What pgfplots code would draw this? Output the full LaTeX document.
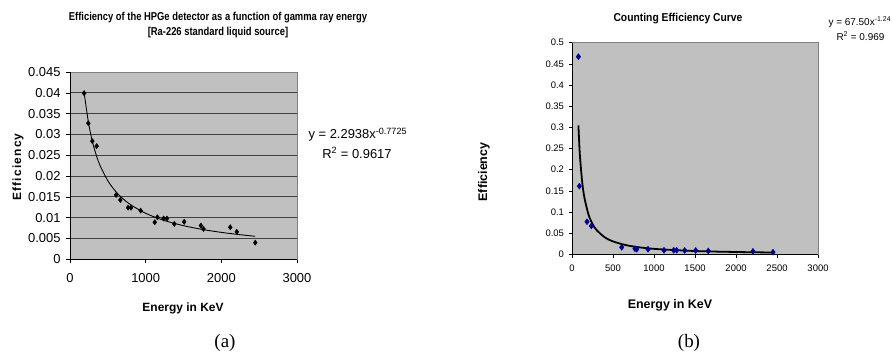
\documentclass[border=0pt]{standalone}
\usepackage{pgfplots}
\pgfplotsset{compat=1.18}
\usepackage{graphicx}
\usepackage{fontspec}
\setmainfont{Liberation Sans}
\newfontfamily\timesfont{Liberation Serif}
\definecolor{plotgray}{RGB}{192,192,192}
\definecolor{framegray}{RGB}{128,128,128}
\definecolor{gridgray}{RGB}{64,64,64}
\definecolor{navyblue}{RGB}{0,0,140}
\newcommand{\fs}[1]{\fontsize{#1}{#1}\selectfont}
\begin{document}
\begin{tikzpicture}[x=1bp,y=1bp]
\useasboundingbox (0,0) rectangle (892,356);
% ---------- panel (a) ----------
\begin{axis}[
  name=A,
  scale only axis, width=227bp, height=187.3bp,
  at={(70bp,96.7bp)}, anchor=south west,
  xmin=0, xmax=3000, ymin=0, ymax=0.045,
  scaled x ticks=false, scaled y ticks=false,
  axis background/.style={fill=plotgray},
  axis line style={framegray, line width=0.8pt},
  ymajorgrids, grid style={gridgray, line width=0.9pt},
  tick align=outside, tickpos=left, major tick length=4bp,
  tick style={black, line width=0.6pt},
  xtick={0,1000,2000,3000}, xticklabels={0,1000,2000,3000},
  ytick={0,0.005,0.01,0.015,0.02,0.025,0.03,0.035,0.04,0.045},
  yticklabels={0,0.005,0.01,0.015,0.02,0.025,0.03,0.035,0.04,0.045},
  ticklabel style={font=\fs{13}},
  xticklabel style={yshift=-7bp},
  yticklabel style={xshift=-2bp},
  clip=false,
]
\draw[black, line width=0.8pt] (rel axis cs:0,1) -- (rel axis cs:0,0) -- (rel axis cs:1,0);
\addplot[black, line width=0.9pt, smooth, no marks] coordinates {
(186,0.0405) (200,0.03829) (250,0.03223) (300,0.02799) (350,0.02486) (400,0.02241)
(500,0.01887) (600,0.01639) (700,0.01455) (800,0.01313) (1000,0.01105)
(1250,0.00930) (1500,0.00808) (1750,0.00717) (2000,0.00647) (2250,0.00591) (2448,0.00553)};
\addplot[only marks, mark=diamond*, mark size=2.6bp, black] coordinates {
(186,0.0399) (242,0.0327) (295,0.0284) (352,0.0272) (609,0.01545) (665,0.01425)
(768,0.0124) (806,0.0124) (934,0.0117) (1120,0.0089) (1155,0.0101) (1238,0.0098)
(1281,0.0098) (1378,0.0085) (1509,0.0090) (1730,0.0081) (1764,0.0073)
(2118,0.0077) (2204,0.0066) (2448,0.0040)};
\end{axis}
\node[font=\fs{11.5}\bfseries] at (218,338) {\scalebox{0.82}[1]{Efficiency of the HPGe detector as a function of gamma ray energy}};
\node[font=\fs{11.5}\bfseries] at (218,323) {\scalebox{0.82}[1]{[Ra-226 standard liquid source]}};
\node[font=\fs{12}\bfseries, rotate=90] at (18,189) {\addfontfeature{LetterSpace=10}Efficiency};
\node[font=\fs{12}\bfseries] at (183,48) {Energy in KeV};
\node[font=\fs{13}, anchor=west] at (305,221) {y = 2.2938x\textsuperscript{-0.7725}};
\node[font=\fs{13}] at (357,203) {R\textsuperscript{2} = 0.9617};
\node[font=\fs{19}\timesfont] at (225,13) {(a)};
% ---------- panel (b) ----------
\begin{axis}[
  name=B,
  scale only axis, width=246bp, height=211.6bp,
  at={(572bp,101.7bp)}, anchor=south west,
  xmin=0, xmax=3000, ymin=0, ymax=0.5,
  scaled x ticks=false, scaled y ticks=false,
  axis background/.style={fill=plotgray},
  axis line style={framegray, line width=0.8pt},
  tick align=outside, tickpos=left, major tick length=3.5bp,
  tick style={black, line width=0.6pt},
  xtick={0,500,1000,1500,2000,2500,3000},
  xticklabels={0,500,1000,1500,2000,2500,3000},
  ytick={0,0.05,0.1,0.15,0.2,0.25,0.3,0.35,0.4,0.45,0.5},
  yticklabels={0,0.05,0.1,0.15,0.2,0.25,0.3,0.35,0.4,0.45,0.5},
  ticklabel style={font=\fs{9.5}},
  xticklabel style={yshift=-4bp},
  yticklabel style={xshift=-1bp},
  clip=false,
]
\draw[black, line width=0.8pt] (rel axis cs:0,1) -- (rel axis cs:0,0) -- (rel axis cs:1,0);
\addplot[only marks, mark=diamond*, mark size=3bp, navyblue] coordinates {
(78,0.467) (90,0.161) (183,0.077) (236,0.067) (606,0.0165) (768,0.013) (789,0.012)
(927,0.012) (1122,0.0095) (1240,0.0095) (1276,0.0095) (1374,0.009) (1508,0.009)
(1662,0.008) (2207,0.007) (2451,0.005)};
\addplot[black, line width=1.8pt, smooth, no marks] coordinates {
(78,0.3044) (90,0.2548) (100,0.2236) (125,0.1695) (150,0.1352) (200,0.0946)
(250,0.0718) (300,0.0572) (400,0.0401) (500,0.0304) (700,0.0200) (1000,0.01287)
(1500,0.00778) (2000,0.00545) (2451,0.00423)};
\end{axis}
\node[font=\fs{11.5}\bfseries] at (678,337) {\scalebox{0.9}[1]{Counting Efficiency Curve}};
\node[font=\fs{10}, anchor=west] at (825,334) {y = 67.50x\textsuperscript{-1.24}};
\node[font=\fs{10}, anchor=west] at (833,320) {R\textsuperscript{2} = 0.969};
\node[font=\fs{12.5}\bfseries, rotate=90] at (484,184) {Efficiency};
\node[font=\fs{12.5}\bfseries] at (670,51) {Energy in KeV};
\node[font=\fs{19}\timesfont] at (689,13) {(b)};
\end{tikzpicture}
\end{document}
